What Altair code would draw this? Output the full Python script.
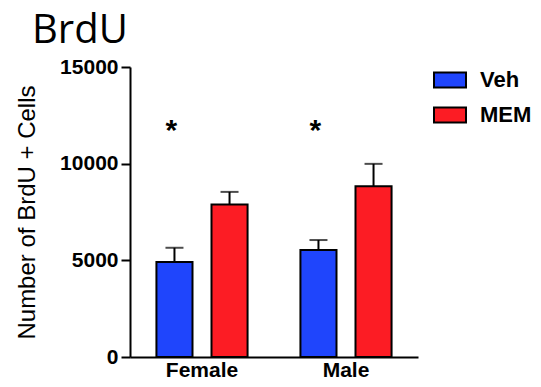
import altair as alt
import pandas as pd

groups = ["Female", "Female", "Male", "Male"]
treatments = ["Veh", "MEM", "Veh", "MEM"]
means = [4910, 7890, 5530, 8830]
sems = [740, 650, 520, 1160]

star_groups = ["Female", "Male"]
star_labels = ["*", "*"]
star_values = [11200, 11200]

treat_order = ["Veh", "MEM"]
treat_colors = ["#1F45FC", "#FC1C24"]
y_ticks = [0, 5000, 10000, 15000]

df = pd.DataFrame({
    "group": groups,
    "treatment": treatments,
    "mean": means,
    "upper": [m + s for m, s in zip(means, sems)],
})
stars = pd.DataFrame({"group": star_groups, "label": star_labels, "value": star_values,
                      "treatment": ["Veh", "Veh"]})

x_enc = alt.X("group:N", sort=["Female", "Male"], title=None,
              scale=alt.Scale(paddingInner=0, paddingOuter=0),
              axis=alt.Axis(labelAngle=0, ticks=False, domainWidth=2, domainColor="black",
                            labelFont="Liberation Sans", labelFontWeight="bold",
                            labelFontSize=21, labelColor="black", labelPadding=2))
xo_enc = alt.XOffset("treatment:N", sort=treat_order,
                     scale=alt.Scale(paddingInner=0.345, paddingOuter=0.48))
y_scale = alt.Scale(domain=[0, 15000], nice=False)

bars = alt.Chart(df).mark_bar(stroke="black", strokeWidth=2).encode(
    x=x_enc,
    xOffset=xo_enc,
    y=alt.Y("mean:Q", scale=y_scale, title="Number of BrdU + Cells",
            axis=alt.Axis(values=y_ticks, format="d", grid=False, domainWidth=2,
                          domainColor="black", tickColor="black", tickWidth=2, tickSize=9,
                          labelPadding=3, labelFont="Liberation Sans", labelFontWeight="bold",
                          labelFontSize=21, labelColor="black",
                          titleFont="Liberation Sans", titleFontWeight="normal",
                          titleFontSize=24, titleColor="black", titlePadding=20)),
    color=alt.Color("treatment:N", sort=treat_order,
                    scale=alt.Scale(domain=treat_order, range=treat_colors),
                    legend=alt.Legend(title=None, orient="none", legendX=303, legendY=-4,
                                      symbolType="M-1,-0.47H1V0.47H-1Z", symbolSize=1024,
                                      symbolStrokeColor="black", symbolStrokeWidth=2,
                                      labelFont="Liberation Sans", labelFontWeight="bold",
                                      labelFontSize=22, labelColor="black", labelOffset=13,
                                      rowPadding=6, padding=0)),
)

err = alt.Chart(df).mark_rule(color="black", strokeWidth=2).encode(
    x=x_enc, xOffset=xo_enc,
    y=alt.Y("mean:Q", scale=y_scale), y2="upper:Q",
)
caps = alt.Chart(df).mark_tick(color="black", thickness=2).encode(
    x=x_enc, xOffset=xo_enc,
    y=alt.Y("upper:Q", scale=y_scale),
    size=alt.value(18),
)
star_text = alt.Chart(stars).mark_text(font="Liberation Sans", fontWeight="bold",
                                       fontSize=30, baseline="alphabetic", dx=-3,
                                       color="black").encode(
    x=x_enc, xOffset=xo_enc,
    y=alt.Y("value:Q", scale=y_scale),
    text="label:N",
)

chart = alt.layer(err, caps, bars, star_text).properties(
    width=288, height=290,
    autosize=alt.AutoSizeParams(type="none"),
    padding={"left": 122, "top": 59, "right": 115, "bottom": 22},
    title=alt.TitleParams("BrdU", anchor="start", frame="group", font="Open Sans",
                          fontSize=40, fontWeight="normal", color="black", dx=-98, offset=5),
).configure_view(stroke=None)

chart.save("out.html", embed_options={"renderer": "svg", "actions": False})
